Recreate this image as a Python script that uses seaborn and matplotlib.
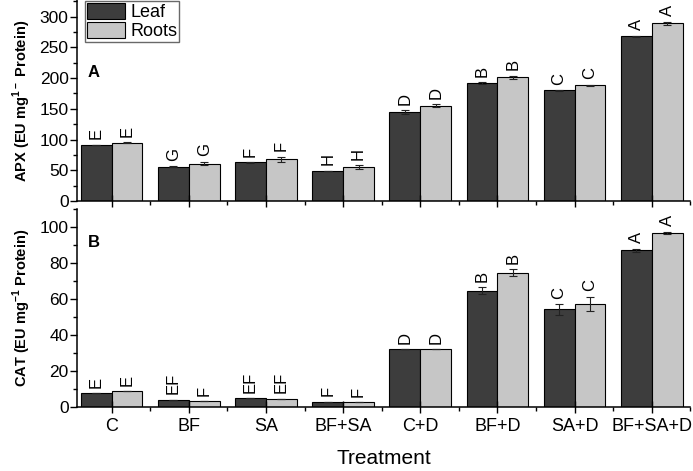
import numpy as np
import pandas as pd
import seaborn as sns
import matplotlib
matplotlib.use("Agg")
import matplotlib.pyplot as plt
from matplotlib.ticker import MultipleLocator

# data
treatments = ["C", "BF", "SA", "BF+SA", "C+D", "BF+D", "SA+D", "BF+SA+D"]
tissues = ["Leaf", "Roots"]

apx_leaf = [91, 56, 63, 49, 145, 192, 180, 268]
apx_roots = [95, 61, 68, 55, 155, 201, 188, 289]
apx_leaf_err = [0.5, 0.5, 0.5, 0.5, 3, 1, 0.5, 0.5]
apx_roots_err = [1, 3, 4, 3, 2.5, 2.5, 1.5, 3]
apx_leaf_letters = ["E", "G", "F", "H", "D", "B", "C", "A"]
apx_roots_letters = ["E", "G", "F", "H", "D", "B", "C", "A"]

cat_leaf = [7.6, 4.0, 5.0, 2.9, 32, 64.6, 54.3, 87]
cat_roots = [8.7, 3.3, 4.6, 2.5, 32, 74.6, 57.4, 96.7]
cat_leaf_err = [0, 0, 0, 0, 0, 2, 3, 1]
cat_roots_err = [0, 0, 0, 0, 0, 2, 4, 0.7]
cat_leaf_letters = ["E", "EF", "EF", "F", "D", "B", "C", "A"]
cat_roots_letters = ["E", "F", "EF", "F", "D", "B", "C", "A"]

plt.rcParams["font.family"] = ["Liberation Sans", "DejaVu Sans"]
plt.rcParams["mathtext.fontset"] = "custom"
plt.rcParams["mathtext.rm"] = "Liberation Sans"
plt.rcParams["mathtext.bf"] = "Liberation Sans:bold"

palette = {"Leaf": "#3d3d3d", "Roots": "#c6c6c6"}


def panel(ax, leaf, roots, leaf_err, roots_err, leaf_let, roots_let, ylim, major, minor, pad):
    df = pd.DataFrame({
        "Treatment": treatments * 2,
        "Tissue": ["Leaf"] * len(treatments) + ["Roots"] * len(treatments),
        "value": leaf + roots,
    })
    sns.barplot(data=df, x="Treatment", y="value", hue="Tissue", order=treatments,
                hue_order=tissues, palette=palette, errorbar=None, width=0.8,
                edgecolor="black", linewidth=0.8, saturation=1, ax=ax)
    for cont, vals, errs, lets in zip(ax.containers, [leaf, roots],
                                      [leaf_err, roots_err], [leaf_let, roots_let]):
        xs = [p.get_x() + p.get_width() / 2 for p in cont.patches]
        ax.errorbar(xs, vals, yerr=errs, fmt="none", ecolor="#222222",
                    elinewidth=0.8, capsize=3, capthick=0.8)
        for x, v, e, t in zip(xs, vals, errs, lets):
            ax.text(x, v + e + pad, t, rotation=90, ha="center", va="bottom", fontsize=12)
    ax.set_ylim(*ylim)
    ax.set_xlim(-0.45, 7.5)
    ax.yaxis.set_major_locator(MultipleLocator(major))
    ax.yaxis.set_minor_locator(MultipleLocator(minor))
    ax.xaxis.set_minor_locator(MultipleLocator(0.5, offset=0.5))
    ax.tick_params(axis="y", which="major", direction="out", length=5, width=1, labelsize=12.5, pad=1)
    ax.tick_params(axis="y", which="minor", direction="out", length=3, width=1)
    ax.tick_params(axis="x", which="major", direction="inout", length=9, width=1, labelsize=13)
    ax.tick_params(axis="x", which="minor", direction="out", length=3, width=1)
    for s in ["top", "right"]:
        ax.spines[s].set_visible(False)
    for s in ["left", "bottom"]:
        ax.spines[s].set_linewidth(1.1)
    ax.set_xlabel("")


fig = plt.figure(figsize=(6.93, 4.71), dpi=100)
ax1 = fig.add_axes([0.111, 0.573, 0.885, 0.427])
ax2 = fig.add_axes([0.111, 0.136, 0.885, 0.420])

panel(ax1, apx_leaf, apx_roots, apx_leaf_err, apx_roots_err,
      apx_leaf_letters, apx_roots_letters, (0, 327), 50, 25, 9)
panel(ax2, cat_leaf, cat_roots, cat_leaf_err, cat_roots_err,
      cat_leaf_letters, cat_roots_letters, (0, 110), 20, 10, 3)

ax1.set_xticklabels([])
ax1.set_ylabel(r"APX (EU mg$^{\mathbf{1-}}$ Protein)", fontsize=10.5, fontweight="bold", labelpad=5)
ax2.set_ylabel(r"CAT (EU mg$^{\mathbf{-1}}$ Protein)", fontsize=10.5, fontweight="bold", labelpad=5)
ax2.set_xlabel("Treatment", fontsize=15, labelpad=10)

ax1.text(0.018, 0.64, "A", transform=ax1.transAxes, fontsize=12, fontweight="bold", va="center")
ax2.text(0.018, 0.83, "B", transform=ax2.transAxes, fontsize=12, fontweight="bold", va="center")

ax2.get_legend().remove()
ax1.legend(loc="upper left", bbox_to_anchor=(0.013, 0.995), fontsize=13, frameon=True,
           fancybox=False, edgecolor="#444444", handlelength=2.1, handleheight=1.0,
           handletextpad=0.3, labelspacing=0.05, borderpad=0.1, borderaxespad=0)

fig.savefig("out.png", dpi=100)
